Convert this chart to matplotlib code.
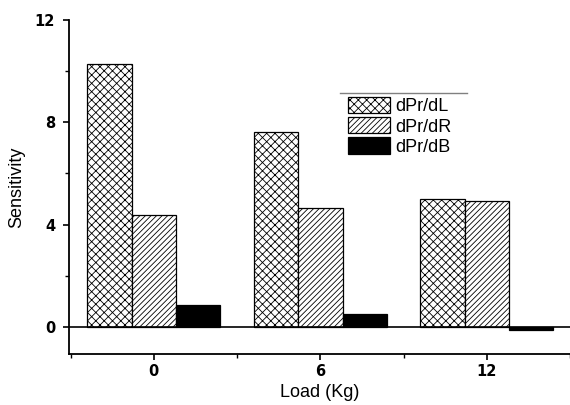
import numpy as np
import matplotlib
matplotlib.use("Agg")
import matplotlib.pyplot as plt
from matplotlib.ticker import MultipleLocator

loads = [0, 6, 12]
dL = [10.28, 7.62, 5.00]
dR = [4.38, 4.64, 4.92]
dB = [0.86, 0.53, -0.10]
labels = ['dPr/dL', 'dPr/dR', 'dPr/dB']


def main():
    plt.rcParams['hatch.linewidth'] = 0.6
    fig = plt.figure(figsize=(5.7, 4.05), dpi=100)
    ax = fig.add_axes([0.121, 0.126, 0.879, 0.825])

    x = np.array(loads, dtype=float)
    w = 1.6
    ax.bar(x - w, dL, w, facecolor='white', edgecolor='black', hatch='xxxx', lw=0.9, label=labels[0])
    ax.bar(x, dR, w, facecolor='white', edgecolor='black', hatch='//////', lw=0.9, label=labels[1])
    ax.bar(x + w, dB, w, facecolor='black', edgecolor='black', lw=0.9, label=labels[2])
    ax.axhline(0, color='black', lw=1.2)

    ax.set_xlim(-3.06, 15.0)
    ax.set_ylim(-1.05, 12)
    ax.set_xticks(loads)
    ax.xaxis.set_minor_locator(MultipleLocator(3))
    ax.yaxis.set_major_locator(MultipleLocator(4))
    ax.yaxis.set_minor_locator(MultipleLocator(2))
    ax.spines['top'].set_visible(False)
    ax.spines['right'].set_visible(False)
    for s in ['left', 'bottom']:
        ax.spines[s].set_linewidth(1.3)
    ax.tick_params(which='major', length=4, width=1.2, direction='out')
    ax.tick_params(which='minor', length=3, width=1.0, direction='out')
    for t in ax.get_xticklabels() + ax.get_yticklabels():
        t.set_fontweight('bold')
        t.set_fontsize(10.5)
    ax.tick_params(axis='x', pad=3)
    ax.tick_params(axis='y', pad=6)

    ax.set_xlabel('Load (Kg)', family='Liberation Sans', fontsize=13, labelpad=4)
    ax.set_ylabel('Sensitivity', family='Liberation Sans', fontsize=13, labelpad=7)

    ax.legend(loc='upper left', bbox_to_anchor=(0.543, 0.79), frameon=False,
              prop={'family': 'Liberation Sans', 'size': 13},
              handlelength=2.3, handleheight=1.0, labelspacing=0.1,
              handletextpad=0.3, borderaxespad=0)
    ax.plot([0.541, 0.794], [0.781, 0.781], transform=ax.transAxes,
            color='gray', lw=1.0, clip_on=False)

    fig.savefig('out.png', dpi=100)


if __name__ == '__main__':
    main()
